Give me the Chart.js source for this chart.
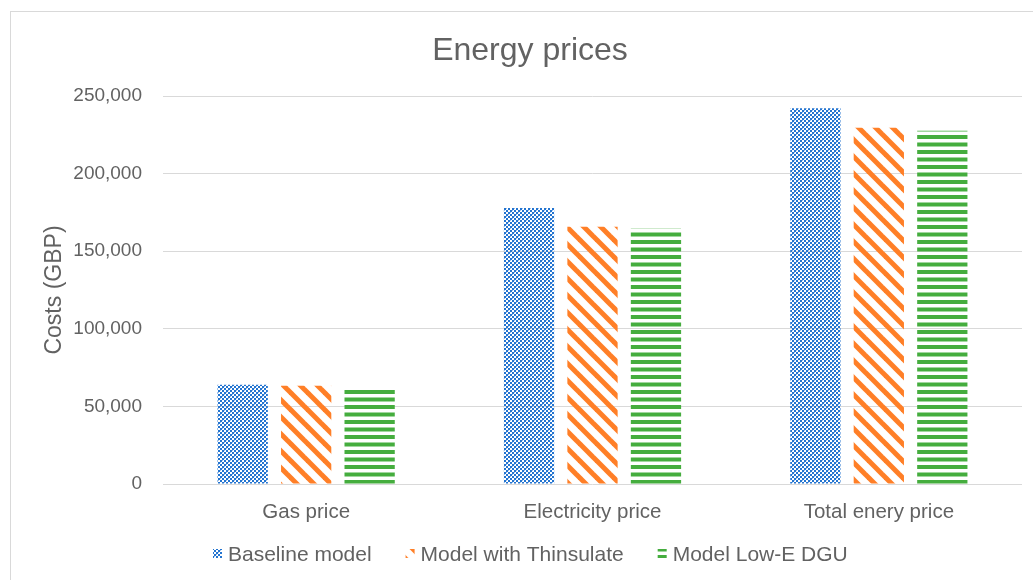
<!DOCTYPE html>
<html>
<head>
<meta charset="utf-8">
<title>Energy prices</title>
<script src="https://cdn.jsdelivr.net/npm/chart.js@4.4.1/dist/chart.umd.min.js"></script>
<style>
  html, body { margin: 0; padding: 0; background: #ffffff; }
  #wrap { width: 1033px; height: 580px; }
</style>
</head>
<body>
<div id="wrap"><canvas id="chart" width="1033" height="580"></canvas></div>
<script>
// Energy cost per model (GBP)
const categories = ['Gas price', 'Electricity price', 'Total enery price'];
const seriesNames = ['Baseline model', 'Model with Thinsulate', 'Model Low-E DGU'];
const baselineModel = [64000, 177800, 242100];
const thinsulateModel = [63300, 165800, 229600];
const lowEDguModel = [61900, 164500, 227600];
const yTicks = [0, 50000, 100000, 150000, 200000, 250000];

const TEXT = '#626262';
const GRID = '#D9D9D9';
const FONT = '"Liberation Sans", Arial, sans-serif';

// Fill patterns for the three series
function makeTile(w, h, paint) {
  const c = document.createElement('canvas');
  c.width = w; c.height = h;
  const g = c.getContext('2d');
  paint(g, w, h);
  return document.createElement('canvas').getContext('2d').createPattern(c, 'repeat');
}

const bluePattern = makeTile(8, 8, (g) => {
  g.fillStyle = '#2374D0';
  // lattice of small squares with open diamonds between them
  const cells = [
    [0, 0], [4, 0], [2, 2], [6, 2], [0, 4], [4, 4], [2, 6], [6, 6]
  ];
  cells.forEach(([x, y]) => g.fillRect(x, y, 2, 2));
  g.fillStyle = 'rgba(35,116,208,0.45)';
  [[2, 0], [0, 2], [6, 4], [4, 6]].forEach(([x, y]) => g.fillRect(x, y, 1, 1));
});

const orangePattern = makeTile(17, 17, (g, w, h) => {
  g.strokeStyle = '#FF7F27';
  g.lineWidth = 5;
  for (const k of [-w, 0, w]) {
    g.beginPath();
    g.moveTo(k - 3, -3);
    g.lineTo(k + w + 3, h + 3);
    g.stroke();
  }
});

const greenPattern = makeTile(8, 15, (g) => {
  g.fillStyle = '#45AD3E';
  g.fillRect(0, 0, 8, 4);
  g.fillRect(0, 7.5, 8, 4);
});

const patterns = [bluePattern, orangePattern, greenPattern];

// Outer frame, chart title and legend row
const decorations = {
  id: 'decorations',
  beforeDraw(chart) {
    const ctx = chart.ctx;
    ctx.save();
    ctx.fillStyle = '#ffffff';
    ctx.fillRect(0, 0, chart.width, chart.height);
    ctx.strokeStyle = GRID;
    ctx.lineWidth = 1;
    ctx.strokeRect(10.5, 11.5, 1200, 1200);
    ctx.restore();
  },
  afterDraw(chart) {
    const ctx = chart.ctx;
    ctx.save();
    ctx.fillStyle = TEXT;
    ctx.textAlign = 'center';
    ctx.textBaseline = 'alphabetic';
    ctx.font = '32px ' + FONT;
    ctx.fillText('Energy prices', 530, 60);

    // legend
    ctx.font = '21px ' + FONT;
    ctx.textAlign = 'left';
    const box = 9, gap = 6, spacing = 34;
    const items = chart.data.datasets.map((ds, i) => ({
      label: ds.label, fill: patterns[i], w: ctx.measureText(ds.label).width
    }));
    let total = 0;
    items.forEach((it, i) => { total += box + gap + it.w + (i ? spacing : 0); });
    let x = Math.round(530 - total / 2);
    const base = 561;
    items.forEach((it) => {
      ctx.fillStyle = it.fill;
      ctx.fillRect(x, base - 12, box, box);
      ctx.fillStyle = TEXT;
      ctx.fillText(it.label, x + box + gap, base);
      x += box + gap + it.w + spacing;
    });
    ctx.restore();
  }
};

const chart = new Chart(document.getElementById('chart'), {
  type: 'bar',
  data: {
    labels: categories,
    datasets: [
      { label: seriesNames[0], data: baselineModel, backgroundColor: bluePattern },
      { label: seriesNames[1], data: thinsulateModel, backgroundColor: orangePattern },
      { label: seriesNames[2], data: lowEDguModel, backgroundColor: greenPattern }
    ]
  },
  options: {
    responsive: false,
    animation: false,
    devicePixelRatio: 1,
    layout: { padding: { top: 96, right: 11, left: 0, bottom: 0 } },
    datasets: {
      bar: { categoryPercentage: 0.665, barPercentage: 0.792, borderWidth: 0 }
    },
    plugins: {
      legend: { display: false },
      title: { display: false },
      tooltip: { enabled: false }
    },
    scales: {
      x: {
        grid: { display: false },
        border: { display: false },
        ticks: {
          color: TEXT,
          font: { family: FONT, size: 20.5 },
          padding: 8,
          maxRotation: 0
        },
        afterFit(scale) { scale.height = 96; }
      },
      y: {
        min: 0,
        max: 250000,
        afterBuildTicks(scale) { scale.ticks = yTicks.map(v => ({ value: v })); },
        grid: { color: GRID, lineWidth: 1, drawTicks: false },
        border: { display: false },
        ticks: {
          color: TEXT,
          font: { family: FONT, size: 19 },
          padding: 21,
          callback: (v) => Number(v).toLocaleString('en-US')
        },
        title: {
          display: true,
          text: 'Costs (GBP)',
          color: TEXT,
          font: { family: FONT, size: 23 },
          padding: { top: 41, bottom: 0 }
        },
        afterFit(scale) { scale.width = 163; }
      }
    }
  },
  plugins: [decorations]
});
</script>
</body>
</html>
